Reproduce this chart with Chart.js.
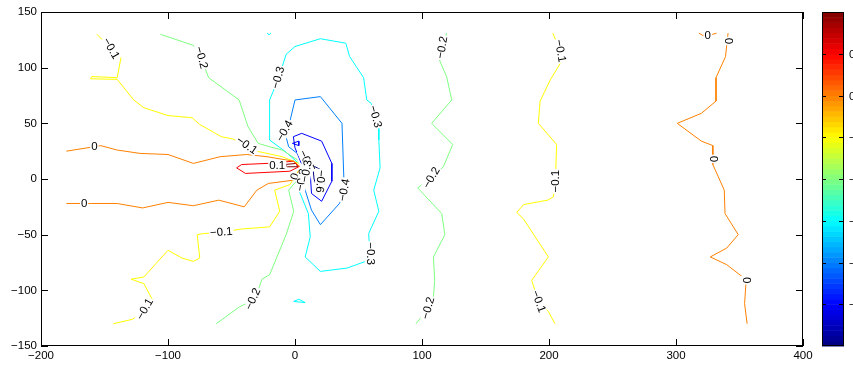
<!DOCTYPE html>
<html>
<head>
<meta charset="utf-8">
<script src="https://cdn.jsdelivr.net/npm/chart.js@4.4.1/dist/chart.umd.min.js"></script>
<style>
  body { margin: 0; background: #fff; }
  #wrap { width: 853px; height: 367px; }
</style>
</head>
<body>
<div id="wrap"><canvas id="contourChart" width="853" height="367"></canvas></div>
<script>
// contour lines, [x, y] pairs
var zeroUpperLeft = [[-180,25],[-158,29],[-153,30],[-140,26],[-122,23],[-100,22],[-80,14],[-59,20],[-38,22],[-22,20],[-1,16],[4,11]];
var zeroLowerLeft = [[-180,-22],[-160,-22],[-140,-22],[-120,-26],[-100,-21],[-80,-24],[-60,-19],[-40,-25],[-30,-10],[-21,-4],[-1,-1],[4,9]];
var zeroRight = [[341,131],[340,121],[339,110],[331.5,91],[331.5,70],[320,59],[301,50],[320,34],[329,30],[329,22],[329,13],[338,-10],[338.6,-31],[349,-50],[340,-62],[327,-70],[340,-77],[352.5,-88],[355,-95],[354,-112],[356,-130]];
var zeroTopBit = [[318,131],[321,129],[329,130],[332,131]];
var plusOneLoop = [[-46,10],[-42,13],[-22,14],[-1,16],[3,11],[-4,7],[-39,5],[-46,10]];
var plusTwoLoop = [[-8,13],[1,14],[2,11],[-6,11],[-8,13]];
var minusOneUpperLeft = [[-156,130],[-144,116],[-137,109],[-140,91],[-160,92],[-161,90],[-140,89.5],[-127,71],[-119,64],[-100,57],[-81,55],[-75,49],[-58,38],[-49,36],[-39,30],[-31,25],[-26,24],[-10,20],[3,14]];
var minusOneLowerLeft = [[-143,-130],[-128,-126],[-118,-118],[-111,-111],[-119,-94],[-129,-90],[-119,-88],[-100,-64],[-89,-71],[-80,-74],[-75,-71],[-77,-50],[-72,-49],[-58,-48],[-43,-45],[-20,-43],[-12,-29],[-16,-10],[-4,-5],[3,8]];
var minusOneRight = [[203,131],[209,115],[210,106],[201,89],[193,70],[191.6,50],[206,31],[205.3,7],[205.3,-2],[203.4,-16],[199,-19],[180,-23],[174.6,-30],[180,-36],[199.5,-70],[186.4,-91],[191.6,-110],[199.5,-119],[204.7,-130]];
var minusTwoUpperLeft = [[-106,130],[-80,120],[-74,109],[-68,91],[-44,71],[-37,47],[-29,32],[-20,29],[-10,26],[2,17]];
var minusTwoLowerLeft = [[-62,-130],[-44,-115],[-33,-109],[-29,-100],[-26,-90],[-20,-86],[-7,-50],[-1,-29],[-5,-10],[1,-2],[4,8]];
var minusTwoRight = [[119.4,131],[116,118],[114,106],[119.4,92],[123.4,71],[107.6,50],[124.2,31],[116.8,11],[107.6,1],[96.6,-8],[115.5,-31],[118,-50],[109,-70],[110,-91],[109,-106],[105,-116],[95.3,-130]];
var minusThreeMain = [[3,14],[-8,25],[-20,35],[-20,71],[-16,82],[-13,91],[-10,101],[-7,112],[0,119],[20,126],[40,122],[43,110],[54,91],[56.5,71],[60,68],[63,56],[66,47],[66,35],[67,10],[62,-10],[66,-29],[58,-49],[59,-67],[58,-73],[41,-80],[20,-83],[8,-70],[12,-52],[10.5,-31],[3.4,-11],[5,5]];
var minusThreeTopBit = [[-22,131],[-20.5,129.5],[-19,131]];
var minusThreeBottomBit = [[-1,-110],[8,-111],[3,-108],[-1,-110]];
var minusFour = [[4,21],[-5,29],[-8,42],[-5,47],[0,71],[20,74],[37,50],[38.6,-4],[39,-11],[35,-22],[20,-41],[13,-28],[8,-10],[5,2]];
var minusFive = [[5,14],[0,28],[-1.3,38],[5.3,41],[21,34],[29,14],[29,-2],[21,-20],[13,-13],[12,5],[9,12]];
var minusFiveBit = [[-2,32],[3,34],[3,30],[-2,32]];
var minusSix = [[14,12],[21,8],[23,-5],[18,-10],[15,0],[14,12]];

var contourLines = [
  [0, zeroUpperLeft], [0, zeroLowerLeft], [0, zeroRight], [0, zeroTopBit],
  [0.1, plusOneLoop], [0.2, plusTwoLoop],
  [-0.1, minusOneUpperLeft], [-0.1, minusOneLowerLeft], [-0.1, minusOneRight],
  [-0.2, minusTwoUpperLeft], [-0.2, minusTwoLowerLeft], [-0.2, minusTwoRight],
  [-0.3, minusThreeMain], [-0.3, minusThreeTopBit], [-0.3, minusThreeBottomBit],
  [-0.4, minusFour], [-0.5, minusFive], [-0.5, minusFiveBit], [-0.6, minusSix]
];

// inline contour labels
var labelText  = ['\u22120.1','\u22120.2','0','\u22120.1','0.1','0','\u22120.1','\u22120.1','\u22120.2','\u22120.3','\u22120.3','\u22120.4','\u22120.4','\u22120.3','\u22120.6','\u22120.5','0','\u22120.2','\u22120.3','\u22120.2','\u22120.2','\u22120.2','\u22120.1','\u22120.1','\u22120.1','0','0','0','0'];
var labelX     = [-145,-74,-158,-38,-14,-166,-58,-118,-33,-13,63,-8,39,59,19.7,9,0,5.5,9.2,116,107.6,105,208.7,205.3,191.6,325,340.7,329,355];
var labelY     = [117,109,29,30,12,-22,-48,-117,-108,91,56,43,-10,-67,-2,16,2,-1,7,118,1,-116,115,-2,-110,129,124,18,-91];
var labelAngle = [60,75,0,35,0,0,-5,-60,-65,-75,75,-60,-80,90,95,65,-70,-80,-80,-80,-60,-75,80,-90,70,0,90,90,90];

var xTicks = [-200,-100,0,100,200,300,400];
var yTicks = [-150,-100,-50,0,50,100,150];
var colorbarTicks = [0.1,0,-0.1,-0.2,-0.3,-0.4,-0.5];
var cMin = -0.6, cMax = 0.2;

function jet(t) {
    var c = function(v) { return Math.round(255 * Math.max(0, Math.min(1, v))); };
    return 'rgb(' + c(1.5 - Math.abs(4 * t - 3)) + ',' + c(1.5 - Math.abs(4 * t - 2)) + ',' + c(1.5 - Math.abs(4 * t - 1)) + ')';
}
function levelColor(v) { return jet((v - cMin) / (cMax - cMin)); }
function minus(v) { return String(v).replace('-', '\u2212'); }

var datasets = contourLines.map(function(line) {
    return {
        data: line[1].map(function(p) { return { x: p[0], y: p[1] }; }),
        showLine: true,
        borderColor: levelColor(line[0]),
        borderWidth: 1,
        pointRadius: 0,
        fill: false,
        tension: 0
    };
});

var fontFamily = '"Liberation Sans", Arial, sans-serif';

var extrasPlugin = {
    id: 'extras',
    afterDatasetsDraw: function(chart) {
        var ctx = chart.ctx, xs = chart.scales.x, ys = chart.scales.y, a = chart.chartArea;
        // contour labels
        ctx.save();
        ctx.beginPath();
        ctx.rect(a.left, a.top, a.right - a.left, a.bottom - a.top);
        ctx.clip();
        ctx.font = '11.5px ' + fontFamily;
        ctx.textAlign = 'center';
        ctx.textBaseline = 'middle';
        for (var i = 0; i < labelText.length; i++) {
            ctx.save();
            ctx.translate(xs.getPixelForValue(labelX[i]), ys.getPixelForValue(labelY[i]));
            ctx.rotate(labelAngle[i] * Math.PI / 180);
            var w = ctx.measureText(labelText[i]).width;
            ctx.fillStyle = '#fff';
            ctx.fillRect(-w / 2 - 1, -5, w + 2, 10);
            ctx.fillStyle = '#000';
            ctx.fillText(labelText[i], 0, 0);
            ctx.restore();
        }
        ctx.restore();

        // frame and inward ticks
        ctx.save();
        ctx.strokeStyle = '#000';
        ctx.lineWidth = 1;
        ctx.strokeRect(a.left + 0.5, a.top + 0.5, a.right - a.left - 1, a.bottom - a.top - 1);
        ctx.beginPath();
        xTicks.forEach(function(v) {
            var px = Math.round(xs.getPixelForValue(v)) + 0.5;
            ctx.moveTo(px, a.bottom); ctx.lineTo(px, a.bottom - 7);
            ctx.moveTo(px, a.top); ctx.lineTo(px, a.top + 7);
        });
        yTicks.forEach(function(v) {
            var py = Math.round(ys.getPixelForValue(v)) + 0.5;
            ctx.moveTo(a.left, py); ctx.lineTo(a.left + 7, py);
            ctx.moveTo(a.right, py); ctx.lineTo(a.right - 7, py);
        });
        ctx.stroke();

        // colorbar
        var cbLeft = 822, cbRight = 844, cbTop = a.top, cbBottom = a.bottom;
        var n = 64, h = (cbBottom - cbTop) / n;
        for (var k = 0; k < n; k++) {
            ctx.fillStyle = jet((k + 0.5) / n);
            ctx.fillRect(cbLeft, cbBottom - (k + 1) * h, cbRight - cbLeft, h + 0.5);
        }
        ctx.strokeRect(cbLeft + 0.5, cbTop + 0.5, cbRight - cbLeft - 1, cbBottom - cbTop - 1);
        ctx.font = '11.5px ' + fontFamily;
        ctx.fillStyle = '#000';
        ctx.textAlign = 'left';
        ctx.textBaseline = 'middle';
        ctx.beginPath();
        colorbarTicks.forEach(function(v) {
            var py = Math.round(cbTop + (cMax - v) / (cMax - cMin) * (cbBottom - cbTop)) + 0.5;
            ctx.moveTo(cbRight, py); ctx.lineTo(cbRight - 5, py);
            ctx.moveTo(cbLeft, py); ctx.lineTo(cbLeft + 4, py);
            ctx.fillText(minus(v), 849, py);
        });
        ctx.stroke();
        ctx.restore();
    }
};

var ctx = document.getElementById('contourChart').getContext('2d');
var contourChart = new Chart(ctx, {
    type: 'scatter',
    data: { datasets: datasets },
    options: {
        responsive: false,
        animation: false,
        layout: { padding: { top: 12, right: 50, left: 0, bottom: 0 } },
        plugins: { legend: { display: false }, tooltip: { enabled: false } },
        scales: {
            x: {
                type: 'linear', min: -200, max: 400,
                afterFit: function(s) { s.height = 21; },
                afterBuildTicks: function(s) { s.ticks = xTicks.map(function(v) { return { value: v }; }); },
                ticks: { autoSkip: false, maxRotation: 0, padding: 3, color: '#000', font: { size: 11.5, family: fontFamily },
                         callback: function(v) { return minus(v); } },
                grid: { display: false, drawTicks: false },
                border: { display: false }
            },
            y: {
                type: 'linear', min: -150, max: 150,
                afterFit: function(s) { s.width = 41; },
                afterBuildTicks: function(s) { s.ticks = yTicks.map(function(v) { return { value: v }; }); },
                ticks: { autoSkip: false, padding: 4, color: '#000', font: { size: 11.5, family: fontFamily },
                         callback: function(v) { return minus(v); } },
                grid: { display: false, drawTicks: false },
                border: { display: false }
            }
        }
    },
    plugins: [extrasPlugin]
});
</script>
</body>
</html>
